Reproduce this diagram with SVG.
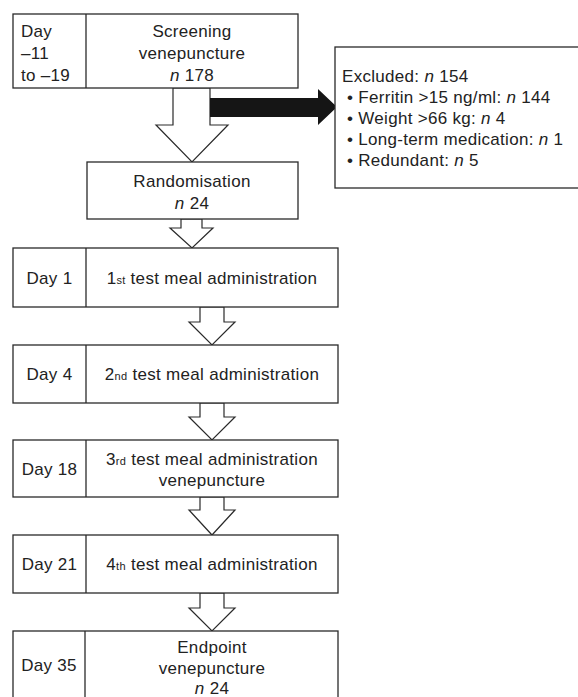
<svg xmlns="http://www.w3.org/2000/svg" width="578" height="697" viewBox="0 0 578 697">
<style>
.box{fill:#fff;stroke:#2a2a2a;stroke-width:1.3}
.div{stroke:#2a2a2a;stroke-width:1.3}
.arr{fill:#fff;stroke:#2a2a2a;stroke-width:1.2;stroke-linejoin:miter}
.blk{fill:#151515;stroke:none}
text{font-family:"Liberation Sans",Arial,sans-serif;font-size:17px;letter-spacing:0.3px;fill:#222}
.c{text-anchor:middle}
.i{font-style:italic}
.sup{font-size:11px}
</style>
<rect width="578" height="697" fill="#fff"/>
<g id="connectors">
<polygon class="arr" points="173,88 210,88 210,125 228,125 192,162 156,125 173,125"/>
<polygon class="blk" points="210,98 318,98 318,89 337,107 318,125 318,117 210,117"/>
<polygon class="arr" points="181,219 202,219 202,228 213,228 192,248 170,228 181,228"/>
<polygon class="arr" points="200,307 224,307 224,322 235,322 212,345 189,322 200,322"/>
<polygon class="arr" points="200,403 224,403 224,417 235,417 212,440 189,417 200,417"/>
<polygon class="arr" points="200,497 224,497 224,510 235,510 212,535 189,510 200,510"/>
<polygon class="arr" points="200,593 224,593 224,608 235,608 212,631 189,608 200,608"/>
</g>
<g id="screening">
<rect class="box" x="13" y="14" width="285" height="74"/>
<line class="div" x1="86" y1="14" x2="86" y2="88"/>
<text x="21" y="37">Day</text>
<text x="21" y="59">–11</text>
<text x="21" y="81">to –19</text>
<text class="c" x="192" y="37">Screening</text>
<text class="c" x="192" y="59">venepuncture</text>
<text class="c" x="192" y="81"><tspan class="i">n</tspan> 178</text>
</g>
<g id="excluded">
<rect class="box" x="335" y="47" width="250" height="141"/>
<text x="342" y="82">Excluded: <tspan class="i">n</tspan> 154</text>
<text x="347" y="103">• Ferritin &gt;15 ng/ml: <tspan class="i">n</tspan> 144</text>
<text x="347" y="124">• Weight &gt;66 kg: <tspan class="i">n</tspan> 4</text>
<text x="347" y="145">• Long-term medication: <tspan class="i">n</tspan> 1</text>
<text x="347" y="166">• Redundant: <tspan class="i">n</tspan> 5</text>
</g>
<g id="randomisation">
<rect class="box" x="87" y="162" width="211" height="57"/>
<text class="c" x="192" y="187">Randomisation</text>
<text class="c" x="192" y="209"><tspan class="i">n</tspan> 24</text>
</g>
<g id="day1">
<rect class="box" x="13" y="248" width="325" height="59"/>
<line class="div" x1="86" y1="248" x2="86" y2="307"/>
<text class="c" x="49.5" y="284">Day 1</text>
<text class="c" x="212" y="284">1<tspan class="sup">st</tspan> test meal administration</text>
</g>
<g id="day4">
<rect class="box" x="13" y="345" width="325" height="58"/>
<line class="div" x1="86" y1="345" x2="86" y2="403"/>
<text class="c" x="49.5" y="380">Day 4</text>
<text class="c" x="212" y="380">2<tspan class="sup">nd</tspan> test meal administration</text>
</g>
<g id="day18">
<rect class="box" x="13" y="440" width="325" height="57"/>
<line class="div" x1="86" y1="440" x2="86" y2="497"/>
<text class="c" x="49.5" y="475">Day 18</text>
<text class="c" x="212" y="465">3<tspan class="sup">rd</tspan> test meal administration</text>
<text class="c" x="212" y="486">venepuncture</text>
</g>
<g id="day21">
<rect class="box" x="13" y="535" width="325" height="58"/>
<line class="div" x1="86" y1="535" x2="86" y2="593"/>
<text class="c" x="49.5" y="570">Day 21</text>
<text class="c" x="212" y="570">4<tspan class="sup">th</tspan> test meal administration</text>
</g>
<g id="day35">
<rect class="box" x="13" y="631" width="325" height="72"/>
<line class="div" x1="85" y1="631" x2="85" y2="703"/>
<text class="c" x="49" y="671">Day 35</text>
<text class="c" x="212" y="653">Endpoint</text>
<text class="c" x="212" y="674">venepuncture</text>
<text class="c" x="212" y="694"><tspan class="i">n</tspan> 24</text>
</g>
</svg>
